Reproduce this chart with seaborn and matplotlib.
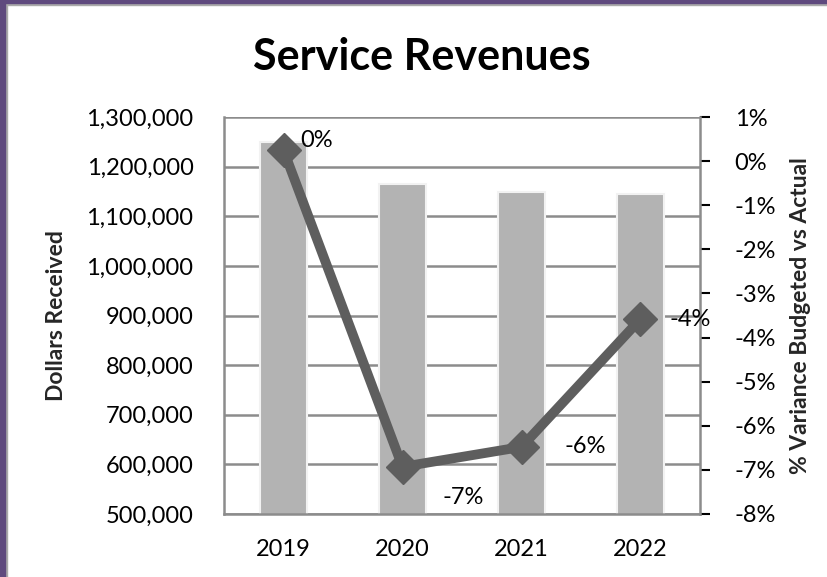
import matplotlib
matplotlib.use("Agg")
import matplotlib.pyplot as plt
from matplotlib.patches import Rectangle
from matplotlib.ticker import FuncFormatter, MultipleLocator
import seaborn as sns
import numpy as np
import pandas as pd

years = ["2019", "2020", "2021", "2022"]
dollars = [1250000, 1165000, 1149500, 1145000]
variance = [0.0025, -0.0693, -0.0648, -0.0358]
label_offsets = [(24, 7), (44, -22), (46, 0), (36, 0)]

sns.set_theme(style="white")
plt.rcParams["font.family"] = ["Lato", "DejaVu Sans"]

bar_color = "#b3b3b3"
line_color = "#5e5e5e"
grid_color = "#8c8c8c"

fig = plt.figure(figsize=(8.27, 5.77), dpi=100)
fig.patch.set_facecolor("white")

# frame along the top and left edges
fig.patches.append(Rectangle((0, 1 - 5 / 577), 1, 5 / 577, transform=fig.transFigure,
                             color="#aaaaaa", zorder=0))
fig.patches.append(Rectangle((0, 1 - 3 / 577), 1, 3 / 577, transform=fig.transFigure,
                             color="#5f4a7e", zorder=1))
fig.patches.append(Rectangle((0, 0), 7 / 827, 1, transform=fig.transFigure,
                             color="#aaaaaa", zorder=0))
fig.patches.append(Rectangle((0, 0), 5 / 827, 1, transform=fig.transFigure,
                             color="#5f4a7e", zorder=1))

ax = fig.add_axes([224 / 827, 1 - 514 / 577, 476 / 827, 397 / 577])
df = pd.DataFrame({"year": years, "dollars": dollars, "variance": variance})

sns.barplot(data=df, x="year", y="dollars", ax=ax, color=bar_color, width=0.39,
            saturation=1, edgecolor="#f2f2f2", linewidth=1.5, zorder=2)
ax.set_ylim(500000, 1300000)
ax.yaxis.set_major_locator(MultipleLocator(100000))
ax.yaxis.set_major_formatter(FuncFormatter(lambda v, p: f"{v:,.0f}"))
ax.set_xlim(-0.5, len(years) - 0.5)
ax.grid(axis="y", color=grid_color, linewidth=1.8, zorder=0)
ax.set_axisbelow(True)
for side in ["top", "right"]:
    ax.spines[side].set_visible(False)
for side in ["left", "bottom"]:
    ax.spines[side].set_color(grid_color)
    ax.spines[side].set_linewidth(1.8)
ax.tick_params(axis="y", labelsize=17, length=0, pad=22, colors="black")
ax.tick_params(axis="x", labelsize=17, length=0, pad=18, colors="black")
ax.set_xlabel("")
ax.set_ylabel("Dollars Received", fontsize=16.5, fontweight="bold", labelpad=14)

ax2 = ax.twinx()
x_pos = np.arange(len(years))
ax2.plot(x_pos, variance, color=line_color, linewidth=7, marker="D",
         markersize=17, markerfacecolor=line_color, markeredgecolor=line_color,
         solid_joinstyle="miter", zorder=3)
ax2.set_ylim(-0.08, 0.01)
ax2.yaxis.set_major_locator(MultipleLocator(0.01))
ax2.yaxis.set_major_formatter(FuncFormatter(lambda v, p: f"{round(v * 100):.0f}%"))
ax2.set_xlim(-0.5, len(years) - 0.5)
for side in ["top", "left", "bottom"]:
    ax2.spines[side].set_visible(False)
ax2.spines["right"].set_color(grid_color)
ax2.spines["right"].set_linewidth(1.8)
ax2.tick_params(axis="y", labelsize=17, direction="out", length=7, width=1.5,
                pad=18, colors="black")
for t in ax2.yaxis.get_ticklines():
    t.set_color(grid_color)
ax2.set_ylabel("% Variance Budgeted vs Actual", fontsize=16.5, fontweight="bold",
               labelpad=10)

for x, v, off in zip(x_pos, variance, label_offsets):
    ax2.annotate(f"{round(v * 100):.0f}%", (x, v), xytext=off,
                 textcoords="offset points", fontsize=17, ha="center", va="center",
                 color="black", zorder=4)

fig.text(422 / 827, 1 - 57 / 577, "Service Revenues", ha="center", va="center",
         fontsize=31, fontweight="bold", color="black")

fig.savefig("out.png", dpi=100, facecolor="white")
